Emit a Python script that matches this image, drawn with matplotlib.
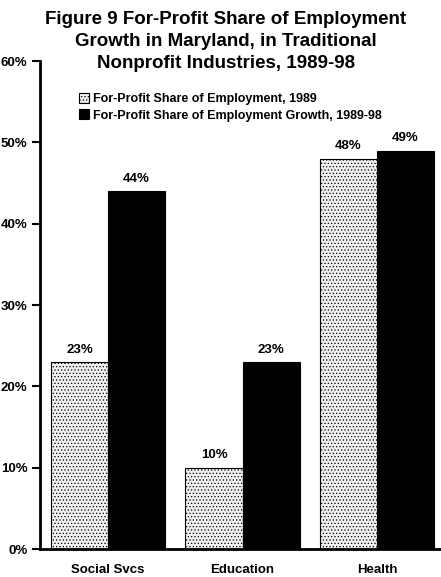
import matplotlib.pyplot as plt
import numpy as np

categories = ['Social Svcs', 'Education', 'Health']
share_1989 = [23, 10, 48]
share_growth = [44, 23, 49]
series_names = ['For-Profit Share of Employment, 1989',
                'For-Profit Share of Employment Growth, 1989-98']

plt.rcParams['font.family'] = ['Liberation Sans', 'DejaVu Sans']
plt.rcParams['font.weight'] = 'bold'
plt.rcParams['hatch.color'] = '#808080'
plt.rcParams['hatch.linewidth'] = 0.5

fig = plt.figure(figsize=(4.41, 5.77), dpi=100)
ax = fig.add_axes([0.0907, 0.0485, 0.9093, 0.8455])

x = np.arange(len(categories))
w = 0.424
b1 = ax.bar(x - w / 2, share_1989, w, color='#f0f0f0', edgecolor='black',
            linewidth=0.8, hatch='.....', label=series_names[0])
b2 = ax.bar(x + w / 2, share_growth, w, color='black', edgecolor='black',
            linewidth=0.8, label=series_names[1])

for bars, vals in [(b1, share_1989), (b2, share_growth)]:
    for r, v in zip(bars, vals):
        ax.text(r.get_x() + r.get_width() / 2, v + 0.8, f'{v}%',
                ha='center', va='bottom', fontsize=9.5, fontweight='bold')

ax.set_ylim(0, 60)
ax.set_xlim(-0.506, 2.476)
ax.set_yticks(range(0, 61, 10))
ax.set_yticklabels([f'{t}%' for t in range(0, 61, 10)], fontsize=9.5, fontweight='bold')
ax.set_xticks(x)
ax.set_xticklabels(categories, fontsize=9.5, fontweight='bold')
ax.tick_params(axis='x', length=0, pad=11)
ax.tick_params(axis='y', length=6, width=1.5, direction='out', pad=3)
for s in ['top', 'right']:
    ax.spines[s].set_visible(False)
ax.spines['left'].set_linewidth(2)
ax.spines['bottom'].set_linewidth(2)

ax.legend(loc='upper left', bbox_to_anchor=(0.085, 0.945), frameon=False,
          prop={'size': 9, 'weight': 'bold'}, handlelength=0.8, handleheight=0.8,
          handletextpad=0.3, labelspacing=0.35, borderaxespad=0)

fig.text(0.512, 0.981, 'Figure 9 For-Profit Share of Employment\nGrowth in Maryland, in Traditional\nNonprofit Industries, 1989-98',
         ha='center', va='top', fontsize=13.5, fontweight='bold', linespacing=1.38)

fig.savefig('out.png', dpi=100)
